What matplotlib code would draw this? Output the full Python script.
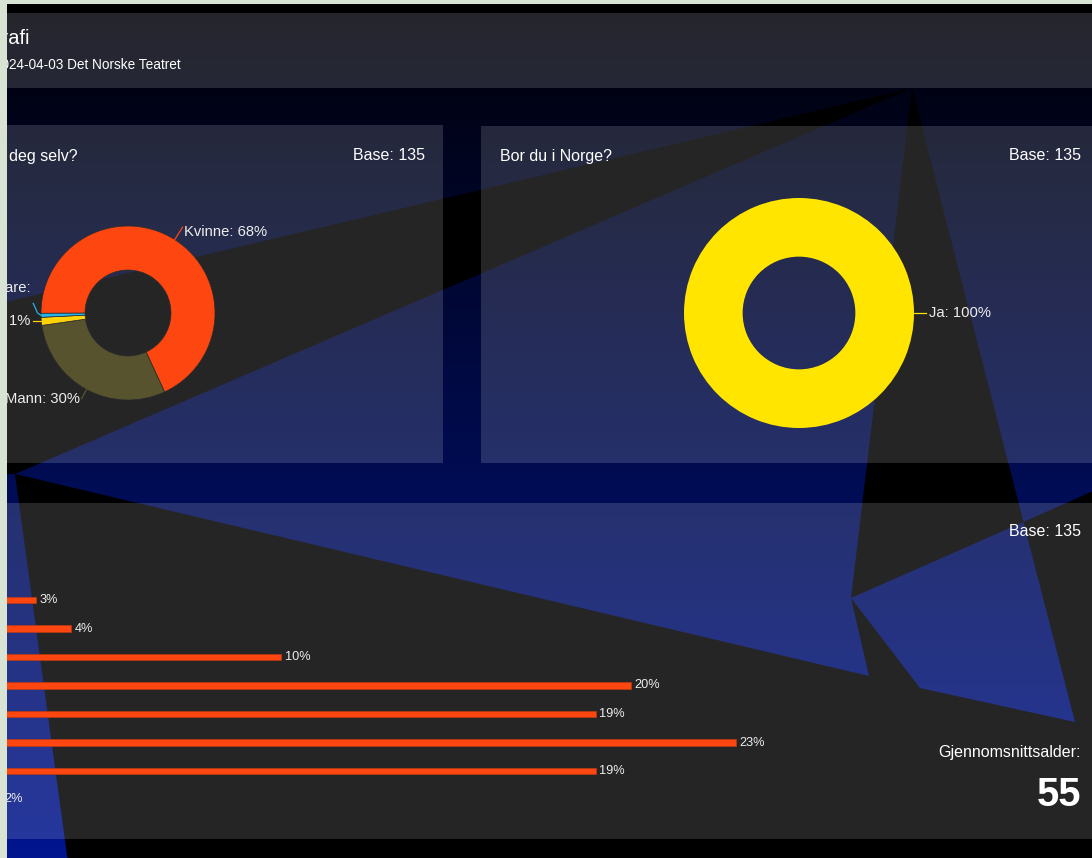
import numpy as np
import matplotlib
matplotlib.use('Agg')
import matplotlib.pyplot as plt
from matplotlib.patches import Polygon, Rectangle

plt.rcParams['font.family'] = ['Liberation Sans', 'DejaVu Sans']

W, H = 1092, 858

# survey data
base_n = 135
gender_labels = ['Kvinne', 'Mann', 'Annet', 'Vil ikke svare']
gender_counts = [92, 40, 2, 1]
gender_colors = ['#fe4611', '#57532f', '#ffd20a', '#27b4e8']
norway_labels = ['Ja']
norway_counts = [135]
age_share = [3, 4, 10, 20, 19, 23, 19, 2]
mean_age = 55

TXT = '#eeeeee'
PANEL = (1, 1, 1, 0.15)


def px_rect(x0, y0, x1, y1):
    return [x0 / W, 1 - y1 / H, (x1 - x0) / W, (y1 - y0) / H]


fig = plt.figure(figsize=(W / 100, H / 100), dpi=100)

# background layer in pixel coordinates
bg = fig.add_axes([0, 0, 1, 1])
bg.set_xlim(0, W)
bg.set_ylim(H, 0)
bg.axis('off')

ys = np.arange(H)
grad = np.zeros((H, 1, 3))
grad[:, 0, 1] = np.clip(3 + 0.024 * (ys - 100), 0, 255) / 255
grad[:, 0, 2] = np.clip(22 + 0.16 * (ys - 100), 0, 255) / 255
bg.imshow(grad, extent=(0, W, H, 0), aspect='auto', zorder=0)

# dark shards over the gradient
shards = [
    [(912, 88), (-20, 308), (-20, 475), (15, 474)],
    [(912, 88), (851, 598), (1023.5, 522)],
    [(15, 474), (869, 676), (851, 598), (920, 688), (1075, 722),
     (1023.5, 522), (1100, 488), (1100, 870), (69, 870)],
]
for pts in shards:
    bg.add_patch(Polygon(pts, closed=True, fc='black', ec='none', zorder=1))
bg.add_patch(Rectangle((0, 0), W, 13, fc='black', ec='none', zorder=1))

# cards
for x0, y0, x1, y1 in [(-10, 13, 1100, 88), (-10, 125, 443, 463),
                       (481, 126, 1100, 463), (-10, 503, 1100, 839)]:
    bg.add_patch(Rectangle((x0, y0), x1 - x0, y1 - y0, fc=PANEL, ec='none', zorder=2))

# header
bg.text(30, 39, 'Demografi', color='white', fontsize=14.4, ha='right', va='center', zorder=3)
bg.text(181, 65, '2024-04-03 Det Norske Teatret', color='white', fontsize=9.8,
        ha='right', va='center', zorder=3)

# card titles
bg.text(78, 156, 'Hvordan vil du beskrive deg selv?', color='white', fontsize=11.5,
        ha='right', va='center', zorder=3)
bg.text(425, 156, f'Base: {base_n}', color='white', fontsize=11.5, ha='right', va='center', zorder=3)
bg.text(500, 156, 'Bor du i Norge?', color='white', fontsize=11.5, ha='left', va='center', zorder=3)
bg.text(1081, 156, f'Base: {base_n}', color='white', fontsize=11.5, ha='right', va='center', zorder=3)
bg.text(1081, 531, f'Base: {base_n}', color='white', fontsize=11.5, ha='right', va='center', zorder=3)
bg.text(1081, 752, 'Gjennomsnittsalder:', color='white', fontsize=11.5, ha='right', va='center', zorder=3)
bg.text(1081, 795, str(mean_age), color='white', fontsize=28.8, fontweight='bold',
        ha='right', va='center', zorder=3)

# gender donut
ax1 = fig.add_axes(px_rect(41, 226, 215, 400))
start = 180.2
ax1.pie(gender_counts, colors=gender_colors, startangle=start, counterclock=False,
        radius=1, wedgeprops=dict(width=0.506, edgecolor='#2b2b2b', linewidth=0.5))
ax1.set_xlim(-1, 1)
ax1.set_ylim(-1, 1)
ax1.set_aspect('equal')
ax1.axis('off')

cum = np.concatenate([[0], np.cumsum(gender_counts)]) / sum(gender_counts)
mids = start - (cum[:-1] + cum[1:]) / 2 * 360
pcts = [round(c / sum(gender_counts) * 100) for c in gender_counts]
lab_kw = dict(color=TXT, fontsize=10.6, va='center', clip_on=False)

for i, (name, pct, col, th) in enumerate(zip(gender_labels, pcts, gender_colors, mids)):
    u = np.array([np.cos(np.radians(th)), np.sin(np.radians(th))])
    if i == 0:
        p2 = u * 1.17
        ax1.plot([u[0], p2[0]], [u[1], p2[1]], color=col, lw=0.9, clip_on=False)
        ax1.text(p2[0] + 0.02, p2[1] - 0.06, f'{name}: {pct}%', ha='left', **lab_kw)
    elif i == 1:
        p2 = u * 1.12
        ax1.plot([u[0], p2[0]], [u[1], p2[1]], color=col, lw=0.9, clip_on=False)
        ax1.text(p2[0] - 0.02, p2[1], f'{name}: {pct}%', ha='right', **lab_kw)
    elif i == 2:
        ax1.plot([u[0], -1.09], [u[1], u[1]], color=col, lw=0.9, clip_on=False)
        ax1.text(-1.12, u[1], f'{name}: {pct}%', ha='right', **lab_kw)
    else:
        ax1.plot([u[0], -1.04, -1.07, -1.09], [u[1], 0.0, 0.07, 0.11],
                 color=col, lw=0.9, clip_on=False)
        ax1.text(-1.12, 0.287, f'{name}:', ha='right', **lab_kw)

# living in Norway donut
ax2 = fig.add_axes(px_rect(684, 198, 914, 428))
ax2.pie(norway_counts, colors=['#ffe500'], startangle=90, counterclock=False,
        radius=1, wedgeprops=dict(width=0.51, edgecolor='none'))
ax2.set_xlim(-1, 1)
ax2.set_ylim(-1, 1)
ax2.set_aspect('equal')
ax2.axis('off')
ja_pct = round(norway_counts[0] / sum(norway_counts) * 100)
ax2.plot([1.0, 1.1], [0, 0], color='#ffe500', lw=0.9, clip_on=False)
ax2.text(1.13, 0, f'{norway_labels[0]}: {ja_pct}%', ha='left', **lab_kw)

# age distribution bars, zero sits left of the visible page
ax3 = fig.add_axes(px_rect(-69, 585, 1092, 814))
ax3.set_facecolor('none')
pos = np.arange(len(age_share))
ax3.barh(pos, age_share, height=0.2456, color='#fe4611', edgecolor='#b83a12', linewidth=0.5)
for p, v in zip(pos, age_share):
    ax3.text(v + 0.1, p, f'{v}%', color=TXT, fontsize=9.2, ha='left', va='center')
ax3.set_xlim(0, 1161 / 35)
ax3.set_ylim(214 / 28.5, -15 / 28.5)
ax3.axis('off')

# page frame
top = fig.add_axes([0, 0, 1, 1])
top.set_facecolor('none')
top.set_xlim(0, W)
top.set_ylim(H, 0)
top.axis('off')
top.add_patch(Rectangle((0, 0), 7, H, fc='#d9e3d4', ec='none'))
top.add_patch(Rectangle((0, 0), W, 4, fc='#d9e3d4', ec='none'))

fig.savefig('out.png', dpi=100)
